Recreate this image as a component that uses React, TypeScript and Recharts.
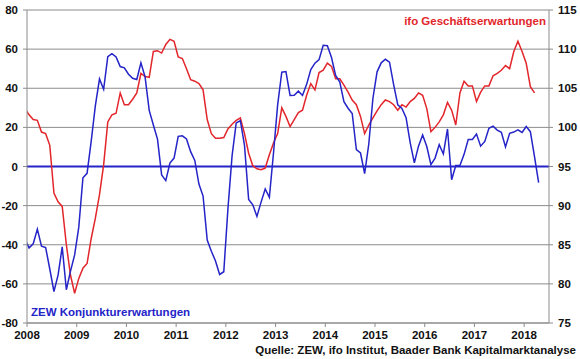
import React from 'react'
import { LineChart, Line, XAxis, YAxis, CartesianGrid, ReferenceLine } from 'recharts'

const BLUE = '#2424c8'
const RED = '#e2262b'
const GRID = '#8c8c8c'
const FONT = '"Liberation Sans", Arial, sans-serif'

const years = [2008, 2009, 2010, 2011, 2012, 2013, 2014, 2015, 2016, 2017, 2018]
const zewTicks = [-80, -60, -40, -20, 0, 20, 40, 60, 80]
const ifoTicks = [75, 80, 85, 90, 95, 100, 105, 110, 115]

// monthly, first value = Dec 2007
const zew = [
  -37.2,
  -41.6, -39.5, -32.0, -40.7, -41.4, -52.4, -63.9, -55.5, -41.1, -63.0, -53.5, -45.2,
  -31.0, -5.8, -3.5, 13.0, 31.1, 44.8, 39.5, 56.1, 57.7, 56.0, 51.1, 50.4,
  47.2, 45.1, 44.5, 53.0, 45.8, 28.7, 21.2, 14.0, -4.3, -7.2, 1.8, 4.3,
  15.4, 15.7, 14.1, 7.6, 3.1, -9.0, -15.1, -37.6, -43.3, -48.3, -55.2, -53.8,
  -21.6, 5.4, 22.3, 23.4, 10.8, -16.9, -19.6, -25.5, -18.2, -11.5, -15.7, 6.9,
  31.5, 48.2, 48.5, 36.3, 36.4, 38.5, 36.3, 42.0, 49.6, 52.8, 54.6, 62.0,
  61.7, 55.7, 46.6, 43.2, 33.1, 29.8, 27.1, 8.6, 6.9, -3.6, 11.5, 34.9,
  48.4, 53.0, 54.8, 53.3, 41.9, 31.5, 29.7, 25.0, 12.1, 1.9, 10.4, 16.1,
  10.2, 1.0, 4.3, 11.2, 6.4, 19.2, -6.8, 0.5, 0.5, 6.2, 13.8, 13.8,
  16.6, 10.4, 12.8, 19.5, 20.6, 18.6, 17.5, 10.0, 17.0, 17.6, 18.7, 17.4,
  20.4, 17.8, 5.1, -8.2,
]

// monthly, first value = Dec 2007, last = Mar 2018
const ifo = [
  102.4,
  101.6, 101.0, 100.9, 99.4, 99.2, 97.7, 91.6, 90.5, 89.9, 85.0, 81.1, 78.8,
  80.7, 82.0, 82.6, 85.8, 88.4, 91.4, 95.2, 100.7, 101.6, 101.8, 104.4, 102.9,
  102.9, 103.6, 104.4, 106.9, 106.5, 106.4, 109.7, 109.8, 109.5, 110.6, 111.25, 111.0,
  109.0, 108.8, 107.5, 106.1, 105.9, 105.6, 104.8, 101.0, 99.2, 98.6, 98.6, 98.7,
  99.8, 100.4, 100.9, 101.2, 99.2, 96.7, 95.1, 94.7, 94.6, 94.8, 96.5, 98.0,
  99.2, 102.5, 101.4, 100.1, 101.0, 101.9, 102.2, 104.1, 105.6, 104.8, 107.0, 107.3,
  108.2, 107.8, 106.2, 106.2, 105.4, 104.5, 103.5, 102.9, 101.4, 99.2, 100.3, 101.2,
  102.1, 102.9, 103.5, 103.3, 102.9, 102.2, 102.9, 102.6, 103.3, 103.7, 104.4, 104.1,
  102.4, 99.45, 100.0, 100.7, 101.6, 103.2, 102.2, 100.3, 104.4, 105.9, 105.3, 105.3,
  103.3, 104.5, 105.3, 105.3, 106.6, 106.9, 107.3, 107.9, 107.5, 109.7, 111.0, 109.7,
  108.2, 105.2, 104.4,
]

const data = zew.map((z, i) => ({
  t: 2007 + (11 + i + 0.5) / 12,
  zew: z,
  ifo: i < ifo.length ? ifo[i] : null,
}))

const tickStyle = { fontSize: 11.5, fontWeight: 700, fill: '#111', fontFamily: FONT }

export default function App() {
  return (
    <div style={{ position: 'absolute', left: 0, top: 0, width: 580, height: 359, background: '#fff', fontFamily: FONT }}>
      <LineChart width={580} height={359} data={data} margin={{ top: 10, right: 0, bottom: 0, left: 0 }}>
        <CartesianGrid yAxisId="left" vertical={false} stroke={GRID} strokeWidth={1} />
        <XAxis
          dataKey="t"
          type="number"
          domain={[2008, 2018.5]}
          ticks={years}
          interval={0}
          allowDataOverflow
          height={36}
          stroke={GRID}
          tickSize={4}
          tickMargin={4}
          tick={tickStyle}
          tickFormatter={(v) => String(Math.round(v))}
        />
        <YAxis
          yAxisId="left"
          domain={[-80, 80]}
          ticks={zewTicks}
          interval={0}
          width={27}
          stroke={GRID}
          tickSize={4}
          tickMargin={5}
          tick={tickStyle}
        />
        <YAxis
          yAxisId="right"
          orientation="right"
          domain={[75, 115]}
          ticks={ifoTicks}
          interval={0}
          width={31}
          stroke={GRID}
          tickSize={4}
          tickMargin={5}
          tick={tickStyle}
        />
        <ReferenceLine yAxisId="left" y={0} stroke={BLUE} strokeWidth={2} />
        <Line
          yAxisId="right"
          dataKey="ifo"
          stroke={RED}
          strokeWidth={1.5}
          dot={false}
          isAnimationActive={false}
        />
        <Line
          yAxisId="left"
          dataKey="zew"
          stroke={BLUE}
          strokeWidth={1.5}
          dot={false}
          isAnimationActive={false}
        />
      </LineChart>
      <svg width={580} height={359} style={{ position: 'absolute', left: 0, top: 0, pointerEvents: 'none' }}>
        <text x={546} y={25} textAnchor="end" fill={RED} fontSize={11.5} fontWeight={700} fontFamily={FONT}>
          ifo Geschäftserwartungen
        </text>
        <text x={31} y={316} fill={BLUE} fontSize={11.5} fontWeight={700} fontFamily={FONT}>
          ZEW Konjunkturerwartungen
        </text>
        <text x={576} y={354} textAnchor="end" fill="#111" fontSize={11.5} fontWeight={700} fontFamily={FONT}>
          Quelle: ZEW, ifo Institut, Baader Bank Kapitalmarktanalyse
        </text>
      </svg>
    </div>
  )
}
